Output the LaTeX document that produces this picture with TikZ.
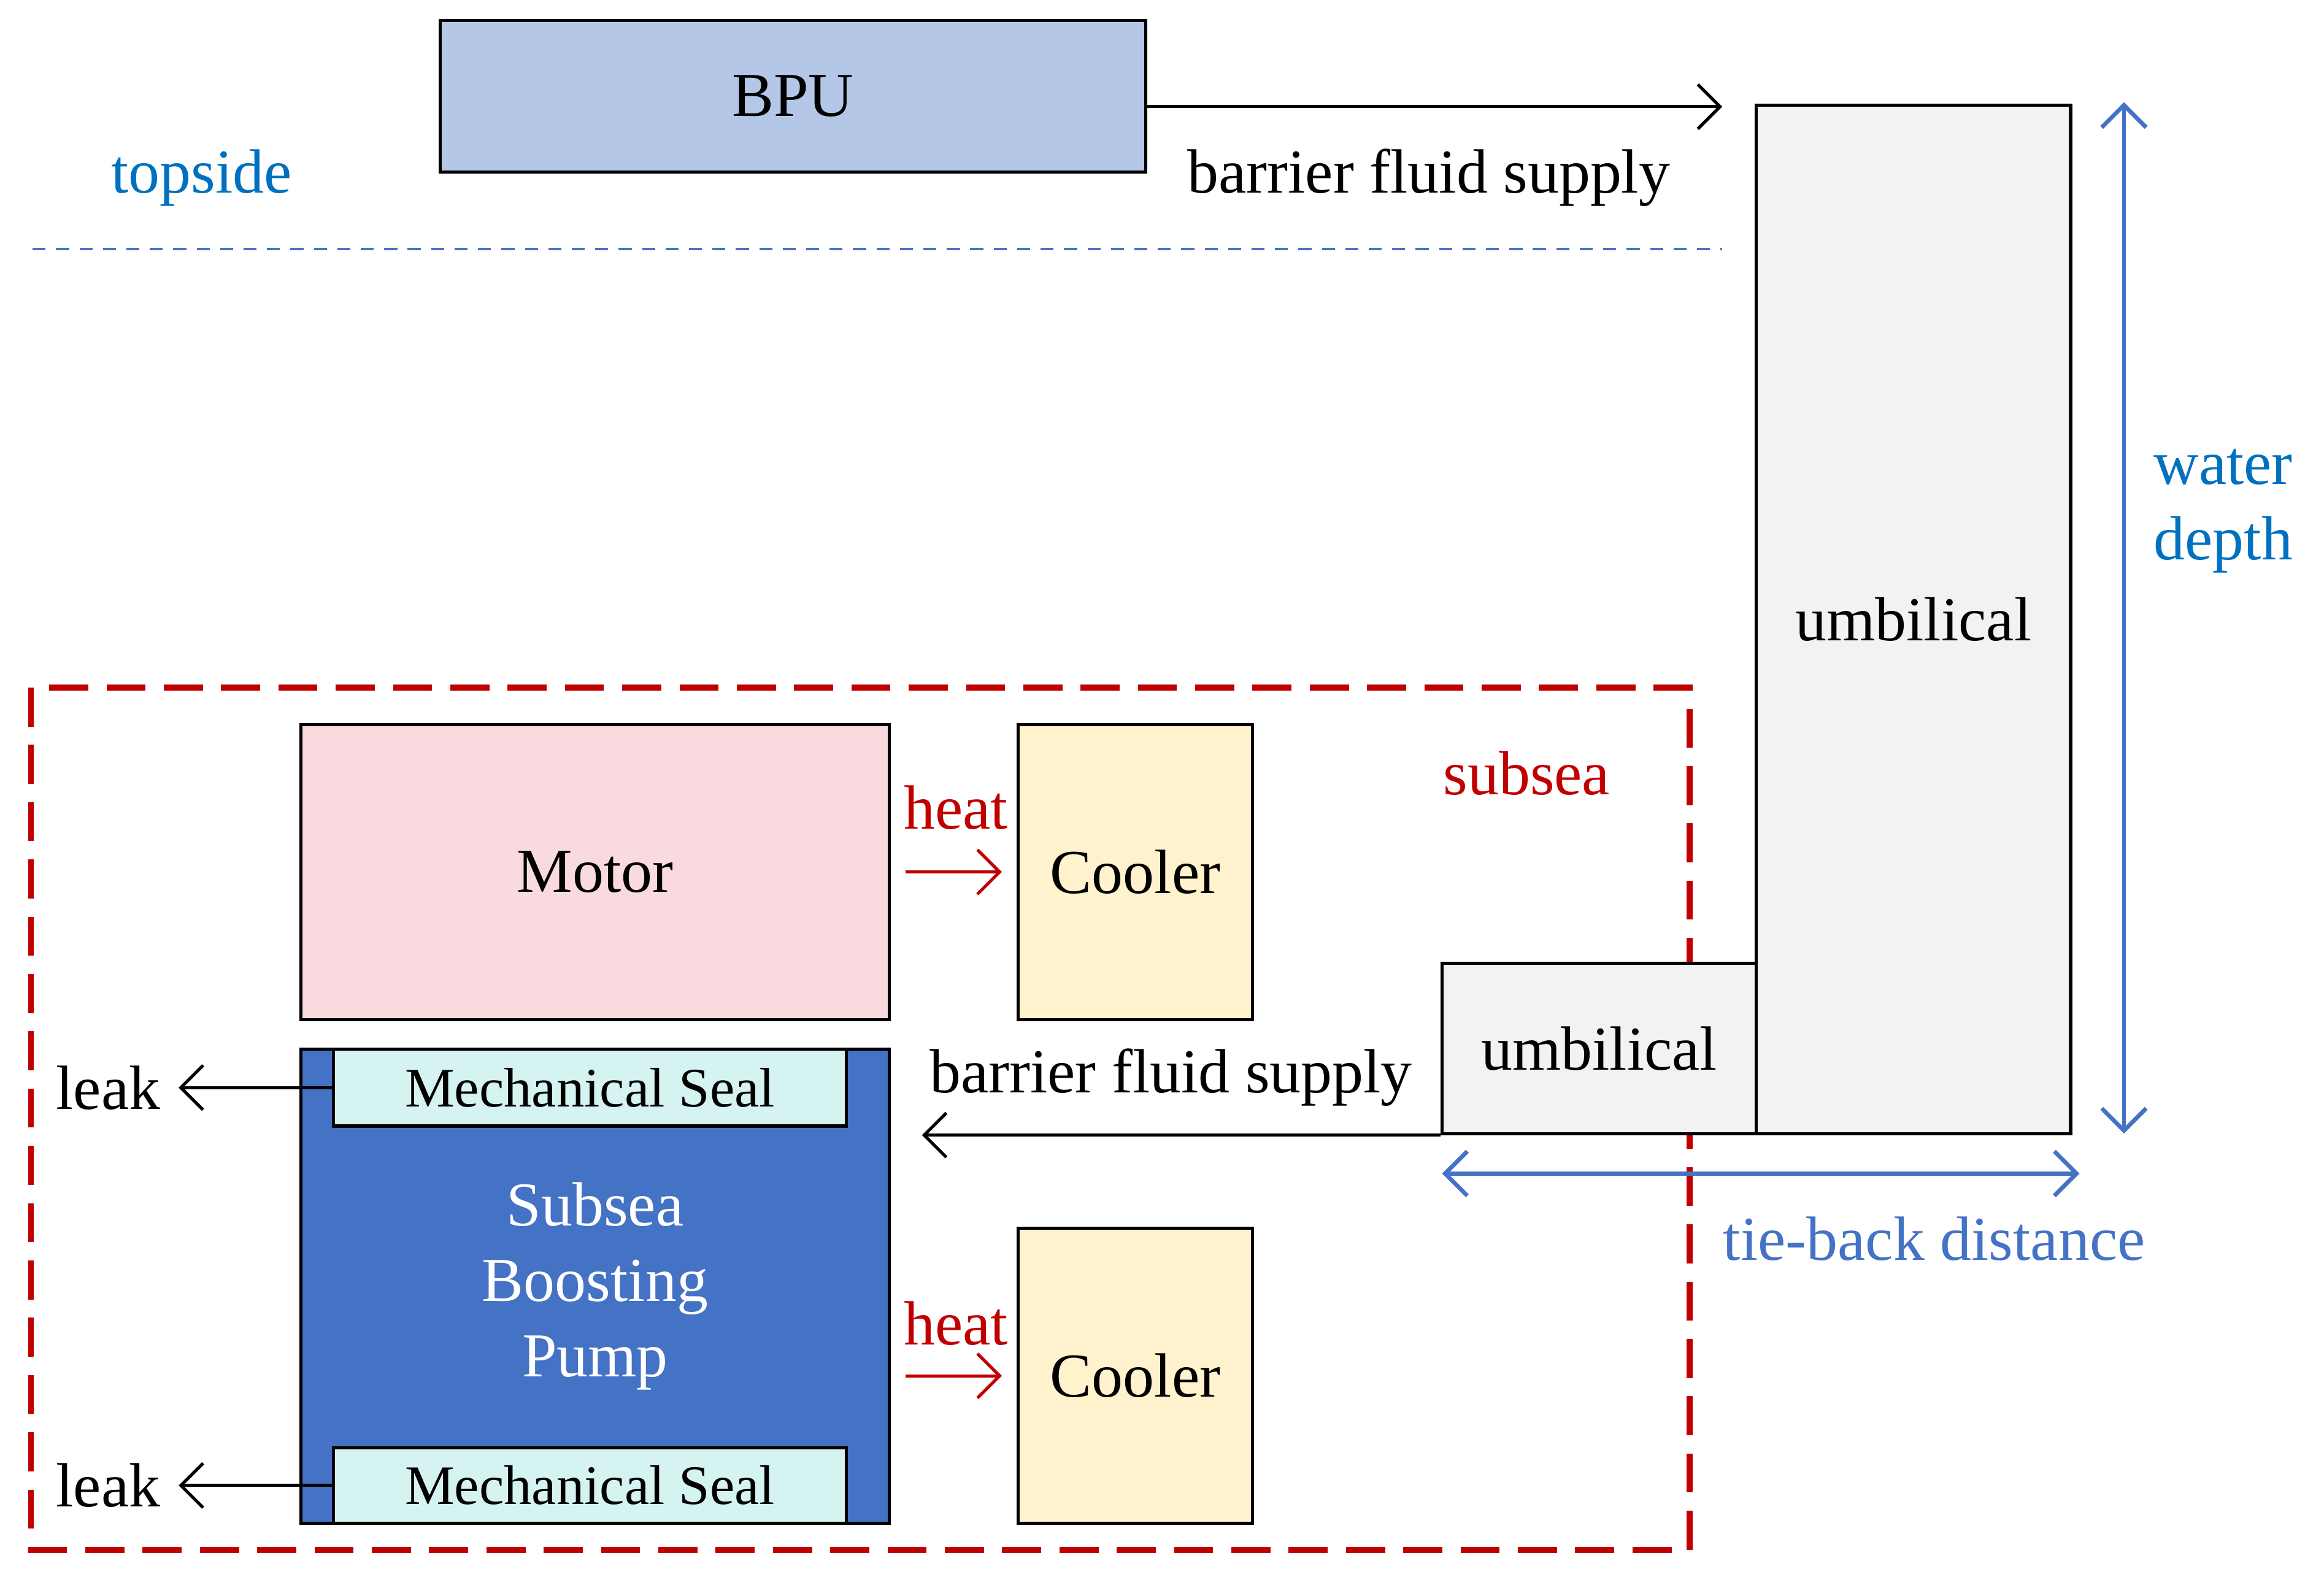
\documentclass[tikz,border=0pt]{standalone}
\usepackage{fontspec}
\setmainfont{Liberation Serif}
\usetikzlibrary{arrows.meta}

\definecolor{bpublue}{HTML}{B4C7E7}
\definecolor{umbgray}{HTML}{F2F2F2}
\definecolor{motorpink}{HTML}{F9DADF}
\definecolor{coolyellow}{HTML}{FFF2CC}
\definecolor{pumpblue}{HTML}{4472C4}
\definecolor{sealcyan}{HTML}{D5F3F0}
\definecolor{subred}{HTML}{C00000}
\definecolor{textblue}{HTML}{0070C0}
\definecolor{lineblue}{HTML}{4472C4}

\begin{document}
\begin{tikzpicture}[
  font=\fontsize{12}{14.5}\selectfont,
  >={Straight Barb[length=1.5mm,width=3mm]},
  box/.style={draw=black, line width=0.6pt, inner sep=0pt, align=center},
  flow/.style={->, line width=0.6pt},
  heatflow/.style={->, line width=0.6pt, draw=subred, shorten <=0.1cm, shorten >=0.1cm},
  dimline/.style={<->, line width=0.8pt, draw=lineblue}
]
\useasboundingbox (0,0) rectangle (15.68,-10.66);

% Topside
\node[box, fill=bpublue, minimum width=4.76cm, minimum height=1.02cm] (bpu) at (5.35,-0.65) {BPU};
\node[text=textblue] (topside) at (1.36,-1.20) {topside};
\node (supplytop) at (9.64,-1.20) {barrier fluid supply};
\coordinate (supplyend) at (11.62,-0.72);
\draw[flow] (bpu.east |- supplyend) -- (supplyend);

\draw[lineblue, line width=0.55pt, dash pattern=on 2.5pt off 2pt] (0.22,-1.68) -- (11.62,-1.68);


% Subsea frame
\draw[subred, line width=1.1pt, dash pattern=on 7.5pt off 3.5pt] (0.21,-4.64) rectangle (11.40,-10.46);
\node[text=subred] (subsea) at (10.30,-5.22) {subsea};


% Umbilicals
\node[box, fill=umbgray, minimum width=2.12cm, minimum height=6.94cm] (umbbig) at (12.91,-4.18) {umbilical};
\node[box, fill=umbgray, minimum width=2.12cm, minimum height=1.15cm] (umbsmall) at (10.79,-7.075) {umbilical};

\coordinate (supplyin) at (6.22,-7.65);
\draw[flow] (umbsmall.south west) -- (umbsmall.south west -| supplyin);
\node (supplylow) at (7.90,-7.27) {barrier fluid supply};


% Motor and pump
\node[box, fill=motorpink, minimum width=3.97cm, minimum height=1.99cm] (motor) at (4.015,-5.885) {Motor};
\node[box, fill=coolyellow, minimum width=1.58cm, minimum height=1.99cm] (cooler1) at (7.66,-5.885) {Cooler};

\node[box, fill=pumpblue, text=white, minimum width=3.97cm, minimum height=3.20cm] (pump) at (4.015,-8.68) {Subsea\\Boosting\\Pump};
\node[box, fill=sealcyan, minimum width=3.46cm, minimum height=0.52cm, font=\fontsize{10.7}{12}\selectfont] (seal1) at (3.98,-7.34) {Mechanical Seal};
\node[box, fill=sealcyan, minimum width=3.46cm, minimum height=0.51cm, font=\fontsize{10.7}{12}\selectfont] (seal2) at (3.98,-10.025) {Mechanical Seal};
\node[box, fill=coolyellow, minimum width=1.58cm, minimum height=1.99cm] (cooler2) at (7.66,-9.285) {Cooler};

\draw[heatflow] (motor) -- (cooler1);
\node[text=subred] (heat1) at (6.45,-5.45) {heat};
\draw[heatflow] (pump.east |- cooler2) -- (cooler2.west);
\node[text=subred] (heat2) at (6.45,-8.93) {heat};

\node (leak1) at (0.73,-7.34) {leak};
\node (leak2) at (0.73,-10.025) {leak};
\draw[flow] (seal1.west) -- (leak1);
\draw[flow] (seal2.west) -- (leak2);


% Dimensions
\coordinate (wdtop) at (14.33,-0.69);
\coordinate (wdbot) at (14.33,-7.65);
\draw[dimline] (wdtop) -- (wdbot);
\node[text=textblue, align=left] (depth) at (15.00,-3.45) {water\\depth};

\coordinate (tbleft) at (9.73,-7.92);
\coordinate (tbright) at (14.03,-7.92);
\draw[dimline] (tbleft) -- (tbright);
\node[text=lineblue] (tieback) at (13.05,-8.36) {tie-back distance};

\end{tikzpicture}
\end{document}
